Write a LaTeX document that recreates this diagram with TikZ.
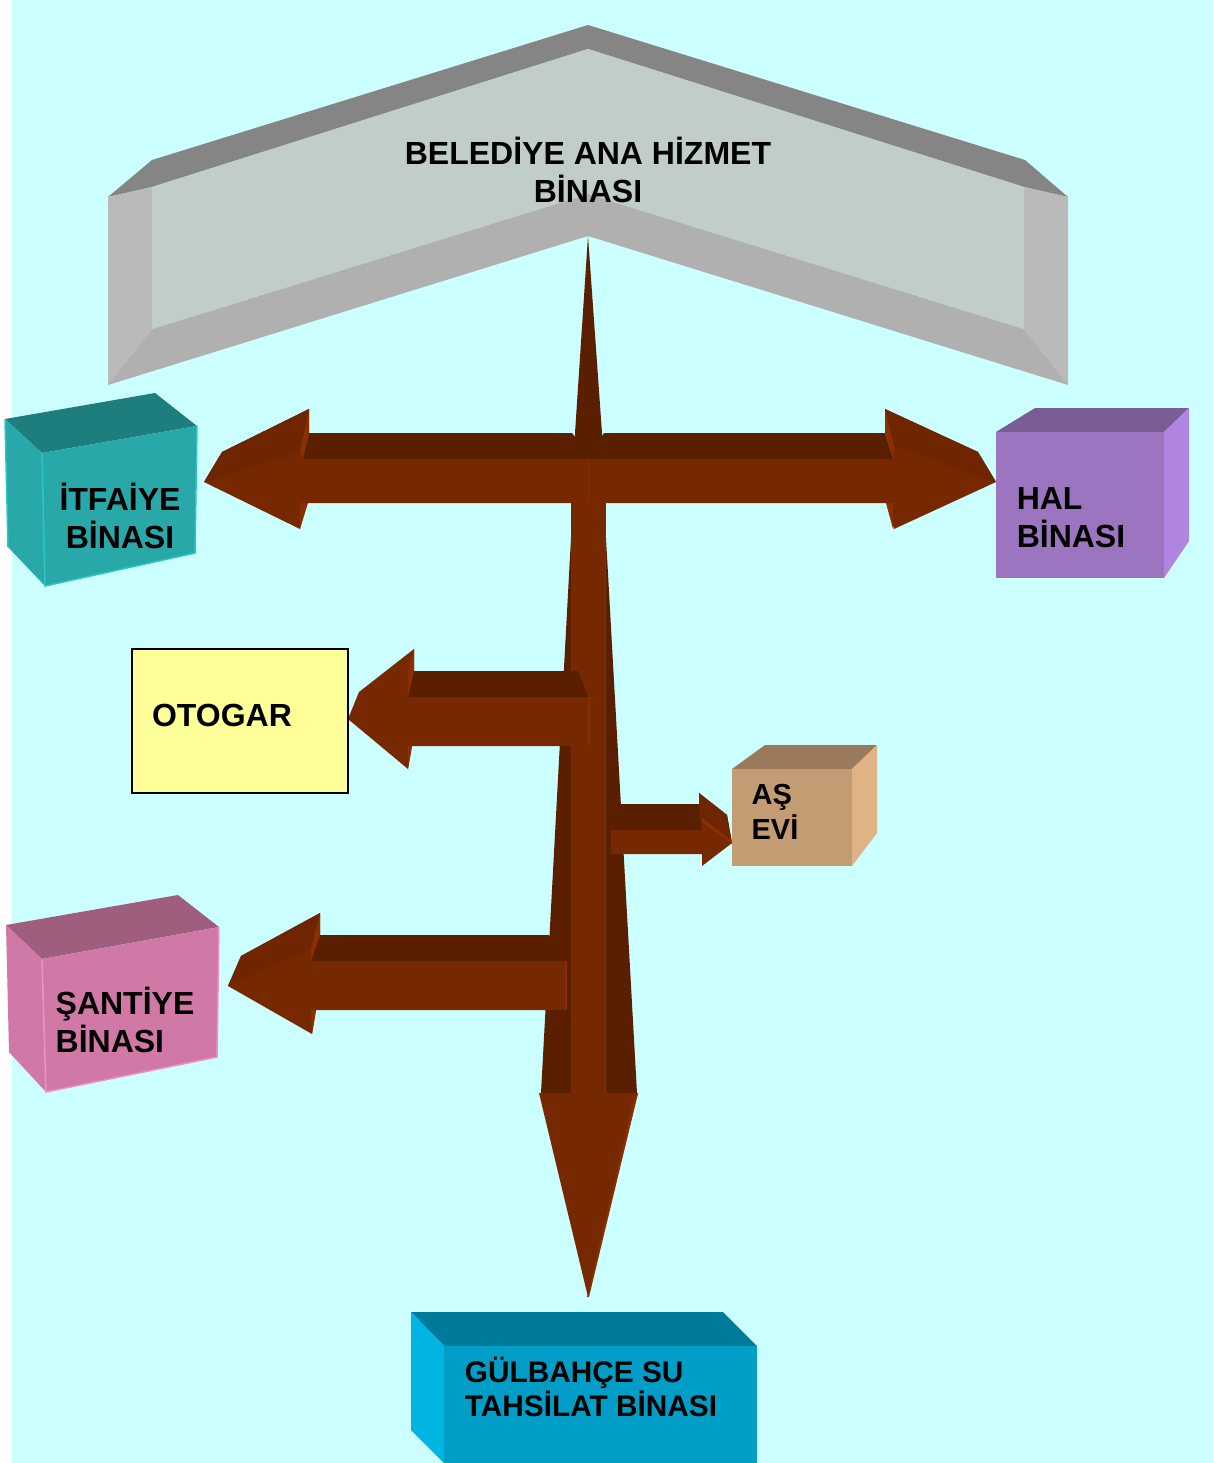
\documentclass[tikz,border=0pt]{standalone}
\usepackage{fontspec}
\setmainfont{Liberation Sans}
\definecolor{sky}{HTML}{CCFFFF}
\definecolor{adark}{HTML}{5A1F00}
\definecolor{aface}{HTML}{762800}
\definecolor{afacet}{HTML}{6E2500}
\definecolor{ahigh}{HTML}{8A3000}
\definecolor{tealtop}{RGB}{30,125,125}
\definecolor{tealface}{RGB}{40,168,168}
\definecolor{tealedge}{RGB}{45,196,196}
\definecolor{pinktop}{RGB}{159,94,125}
\definecolor{pinkface}{RGB}{208,120,166}
\definecolor{pinkedge}{RGB}{240,144,200}
\tikzset{
  label/.style={font=\bfseries\fontsize{32}{38}\selectfont,align=left,inner sep=0pt,text=black},
  edgeline/.style={line width=1.5pt}
}
\begin{document}
\begin{tikzpicture}[x=1pt,y=-1pt]
\useasboundingbox (0,0) rectangle (1214,1463);
\fill[white] (0,0) rectangle (1214,1463);
\fill[sky] (12,0) rectangle (1213,1463);
% main building
\fill[color={rgb,255:red,133;green,133;blue,133}] (588,25)--(1025,160)--(1068,197)--(1024,187)--(588,49)--(152,187)--(108,197)--(152,160)--cycle;
\fill[color={rgb,255:red,186;green,186;blue,186}] (108,197)--(152,187)--(152,329)--(108,385)--cycle;
\fill[color={rgb,255:red,186;green,186;blue,186}] (1068,197)--(1024,187)--(1024,329)--(1068,385)--cycle;
\fill[color={rgb,255:red,176;green,176;blue,176}] (108,385)--(152,329)--(588,194)--(1024,329)--(1068,385)--(588,236)--cycle;
\fill[color={rgb,255:red,192;green,205;blue,203}] (152,187)--(588,49)--(1024,187)--(1024,329)--(588,194)--(152,329)--cycle;
% central arrow
\fill[adark] (588,236)--(602,433)--(602,459)--(575,459)--(575,433)--cycle;
\fill[adark] (571,538)--(606,538)--(637,1093)--(541,1093)--cycle;
\fill[aface] (571,500)--(606,500)--(606,1093)--(571,1093)--cycle;
\fill[ahigh] (604.5,530) rectangle (606,1093);
\fill[aface!90!ahigh] (570.5,640) rectangle (572,1093);
\fill[aface] (539,1093)--(638,1093)--(588,1297)--cycle;
\fill[ahigh] (638,1093)--(634,1098)--(587,1297)--(589,1297)--cycle;
% horizontal left arrow
\fill[adark] (300,433)--(572,433)--(576,438)--(588,459)--(300,459)--cycle;
\fill[aface] (588,459)--(588,503)--(302,503)--(300,529)--(204,482)--(222,452)--(309,409)--(309,433)--(303,459)--cycle;
\fill[afacet] (204,482)--(222,452)--(309,409)--(300,452)--cycle;
\fill[ahigh] (309,409)--(309,433)--(303,459)--(300,452)--cycle;
\fill[ahigh] (308,503)--(300,503)--(300,529)--cycle;
% horizontal right arrow
\fill[adark] (604,433)--(885,433)--(893,459)--(588,459)--cycle;
\fill[aface] (588,459)--(893,459)--(885,433)--(885,409)--(978,452)--(996,482)--(894,529)--(887,503)--(588,503)--cycle;
\fill[afacet] (996,482)--(978,452)--(885,409)--(894,446)--cycle;
\fill[ahigh] (885,409)--(894,446)--(893,459)--(885,433)--cycle;
\fill[ahigh] (886,503)--(893,503)--(893,529)--cycle;
\fill[ahigh] (587.5,459) rectangle (589,503);
% otogar arrow
\fill[adark] (408,671)--(578,671)--(588,697)--(408,697)--cycle;
\fill[aface] (589,697)--(589,746)--(412,746)--(408,769)--(348,719)--(359,692)--(414,649)--(414,671)--(408,697)--cycle;
\fill[ahigh] (414,649)--(414,671)--(408,697)--(407.5,672)--cycle;
\fill[ahigh] (408,746)--(412,746)--(408,769)--cycle;
\fill[ahigh] (587.5,697) rectangle (589.5,745);
% asevi arrow
\fill[adark] (611,804)--(700,804)--(703,830)--(611,830)--cycle;
\fill[aface] (611,830)--(702,830)--(699,804)--(699,793)--(727,815)--(732,843)--(702,866)--(702,854)--(611,854)--cycle;
\fill[afacet] (699,793)--(727,815)--(732,843)--(702,820)--cycle;
\fill[ahigh] (702,818)--(732,841)--(732,844)--(702,822)--cycle;
% santiye arrow
\fill[adark] (315,935)--(549,935)--(566,961)--(310,961)--cycle;
\fill[aface] (566,961)--(566,1010)--(316,1010)--(312,1034)--(228,986)--(241,956)--(320,913)--(320,935)--(310,961)--cycle;
\fill[afacet] (228,986)--(241,956)--(320,913)--(311,948)--cycle;
\fill[ahigh] (320,913)--(320,935)--(311,961)--(311,948)--cycle;
\fill[ahigh] (311,1010)--(316,1010)--(312,1034)--cycle;
\fill[ahigh] (564.5,961) rectangle (566.5,1010);
% itfaiye box
\fill[tealtop] (5,419)--(155,393)--(197,426)--(42,453)--cycle;
\fill[tealface] (5,419)--(42,453)--(45,586)--(8,547)--cycle;
\fill[tealface] (42,453)--(197,426)--(195,553)--(45,586)--cycle;
\draw[tealedge,edgeline] (42,453)--(45,586)--(195,553)--(197,426);
\draw[tealedge,edgeline] (5,419)--(8,547);
% hal box
\fill[color={rgb,255:red,122;green,92;blue,150}] (996,432)--(1035,408)--(1189,408)--(1164,432)--cycle;
\fill[color={rgb,255:red,176;green,133;blue,223}] (1164,432)--(1189,408)--(1189,541)--(1164,578)--cycle;
\fill[color={rgb,255:red,156;green,117;blue,192}] (996,432) rectangle (1164,578);
% otogar box
\draw[fill={rgb,255:red,255;green,255;blue,153},line width=1.5pt] (132,649) rectangle (348,793);
% as evi box
\fill[color={rgb,255:red,153;green,122;blue,91}] (732,769)--(765,745)--(877,745)--(852,769)--cycle;
\fill[color={rgb,255:red,224;green,179;blue,135}] (852,769)--(877,745)--(877,833)--(852,866)--cycle;
\fill[color={rgb,255:red,196;green,156;blue,116}] (732,769) rectangle (852,866);
% santiye box
\fill[pinktop] (6,925)--(178,895)--(219,927)--(42,959)--cycle;
\fill[pinkface] (6,925)--(42,959)--(46,1092)--(9,1052)--cycle;
\fill[pinkface] (42,959)--(219,927)--(217,1057)--(46,1092)--cycle;
\draw[pinkedge,edgeline] (42,959)--(46,1092)--(217,1057)--(219,927);
% gulbahce box
\fill[color={rgb,255:red,0;green,122;blue,154}] (411,1312)--(723,1312)--(757,1346)--(444,1346)--cycle;
\fill[color={rgb,255:red,0;green,181;blue,226}] (411,1312)--(444,1346)--(444,1463)--(411,1430)--cycle;
\fill[color={rgb,255:red,0;green,158;blue,198}] (444,1346) rectangle (757,1463);
% labels
\node[label,align=center] (belediye) at (588,169.5) {BELEDİYE ANA HİZMET\\BİNASI};
\node[label,align=center] (itfaiye) at (120,515.5) {İTFAİYE\\BİNASI};
\node[label] (hal) at (1071,518) {HAL\\BİNASI};
\node[label] (otogar) at (222,715) {OTOGAR};
\node[label,font=\bfseries\fontsize{29}{35}\selectfont] (asevi) at (775,812) {AŞ\\EVİ};
\node[label] (santiye) at (125,1019.5) {ŞANTİYE\\BİNASI};
\node[label,font=\bfseries\fontsize{29.8}{34}\selectfont] (gulbahce) at (591,1387) {GÜLBAHÇE SU\\TAHSİLAT BİNASI};
\end{tikzpicture}
\end{document}
